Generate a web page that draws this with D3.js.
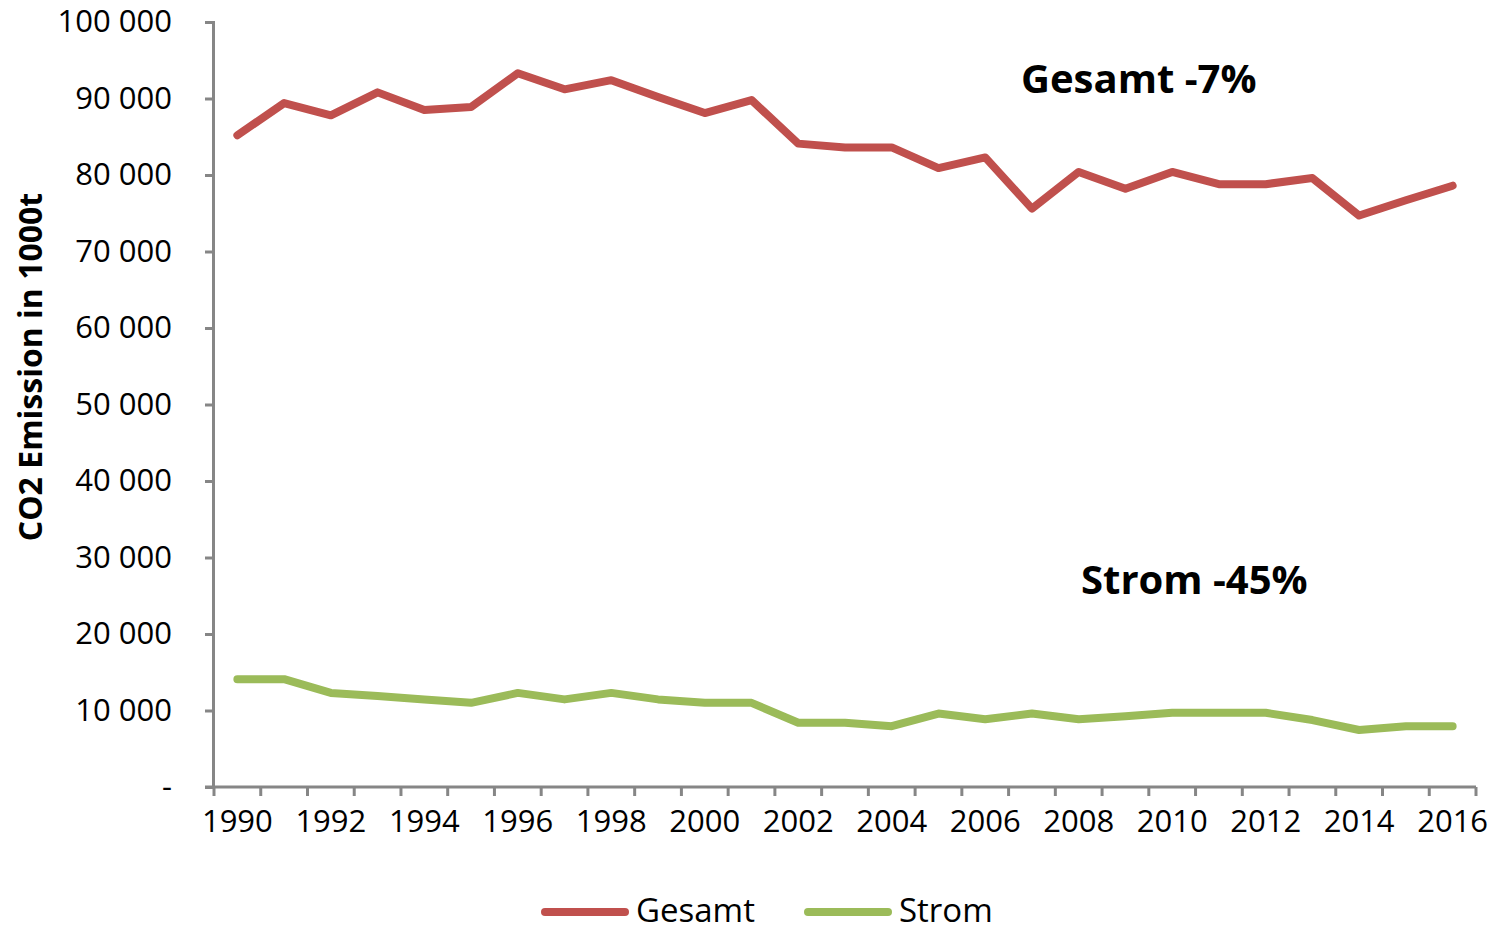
<!DOCTYPE html>
<html>
<head>
<meta charset="utf-8">
<script src="https://cdn.jsdelivr.net/npm/d3@7"></script>
<style>
  body { margin: 0; background: #fff; }
  text { font-family: "Open Sans", sans-serif; fill: #000; }
</style>
</head>
<body>
<script>
var svg_width  = 1489;
var svg_height = 933;

// data
var years = d3.range(1990, 2017);
var gesamt = [85200, 89400, 87800, 90800, 88500, 88900, 93300, 91200, 92400, 90200,
              88100, 89800, 84100, 83600, 83600, 80900, 82300, 75600, 80400, 78200,
              80400, 78800, 78800, 79600, 74700, 76700, 78600];
var strom  = [14100, 14100, 12300, 11900, 11450, 11000, 12300, 11450, 12300, 11450,
              11000, 11000, 8400, 8400, 7950, 9600, 8850, 9600, 8850, 9250,
              9700, 9700, 9700, 8750, 7450, 7950, 7950];
var yTicks = d3.range(0, 100001, 10000);
var xLabels = years.filter(d => d % 2 === 0);

var series = [
  {name: "Gesamt", values: gesamt, color: "#c0504d"},
  {name: "Strom",  values: strom,  color: "#9bbb59"}
];

var svg = d3.select('body').append('svg')
            .attr('width', svg_width)
            .attr('height', svg_height);

var x = d3.scaleBand().domain(years).range([214, 1476]);
var y = d3.scaleLinear().domain([0, 100000]).range([787, 22]);

var fmt = d3.formatLocale({decimal: ",", thousands: " ", grouping: [3], currency: ["", ""]}).format(",d");

// y axis
var yAxis = svg.append("g")
  .attr("transform", "translate(213,0)")
  .call(d3.axisLeft(y).tickValues(yTicks).tickSize(8).tickPadding(33)
          .tickFormat(d => d === 0 ? "-" : fmt(d)));
yAxis.selectAll("text").style("font-size", "31px");

// x axis: labels centred on every other year, ticks on category boundaries
var xAxis = svg.append("g")
  .attr("transform", "translate(0,787)")
  .call(d3.axisBottom(x).tickValues(xLabels).tickSize(0).tickPadding(23));
xAxis.selectAll("text").style("font-size", "31px");
xAxis.selectAll(".tick line").remove();

xAxis.selectAll(".bound")
  .data(years.map(d => x(d)).concat([x.range()[1]]))
  .enter().append("line")
  .attr("class", "bound")
  .attr("x1", d => d).attr("x2", d => d)
  .attr("y1", 0).attr("y2", 9);

svg.selectAll(".domain, .tick line, .bound")
  .attr("stroke", "#868686")
  .attr("stroke-width", 3);
xAxis.select(".domain").attr("d", "M205,0H1476");

// y title
svg.append("text")
  .attr("transform", "translate(42,367) rotate(-90)")
  .attr("text-anchor", "middle")
  .style("font-size", "32px")
  .style("font-weight", "bold")
  .text("CO2 Emission in 1000t");

// lines
var line = d3.line()
  .x((d, i) => x(years[i]) + x.bandwidth() / 2)
  .y(d => y(d));

svg.append("g").selectAll("path")
  .data(series)
  .enter().append("path")
  .attr("d", d => line(d.values))
  .attr("fill", "none")
  .attr("stroke", d => d.color)
  .attr("stroke-width", 8)
  .attr("stroke-linejoin", "round")
  .attr("stroke-linecap", "round");

// annotations
svg.append("text")
  .attr("x", 1021).attr("y", 93)
  .style("font-size", "40px").style("font-weight", "bold")
  .text("Gesamt -7%");
svg.append("text")
  .attr("x", 1081).attr("y", 594)
  .style("font-size", "40px").style("font-weight", "bold")
  .text("Strom -45%");

// legend
var legend = svg.append("g").selectAll("g")
  .data(series)
  .enter().append("g")
  .attr("transform", (d, i) => "translate(" + (545 + i * 263) + ",912)");

legend.append("line")
  .attr("x1", 0).attr("x2", 80)
  .attr("stroke", d => d.color)
  .attr("stroke-width", 8)
  .attr("stroke-linecap", "round");

legend.append("text")
  .attr("x", 91).attr("y", 10)
  .style("font-size", "33px")
  .text(d => d.name);
</script>
</body>
</html>
